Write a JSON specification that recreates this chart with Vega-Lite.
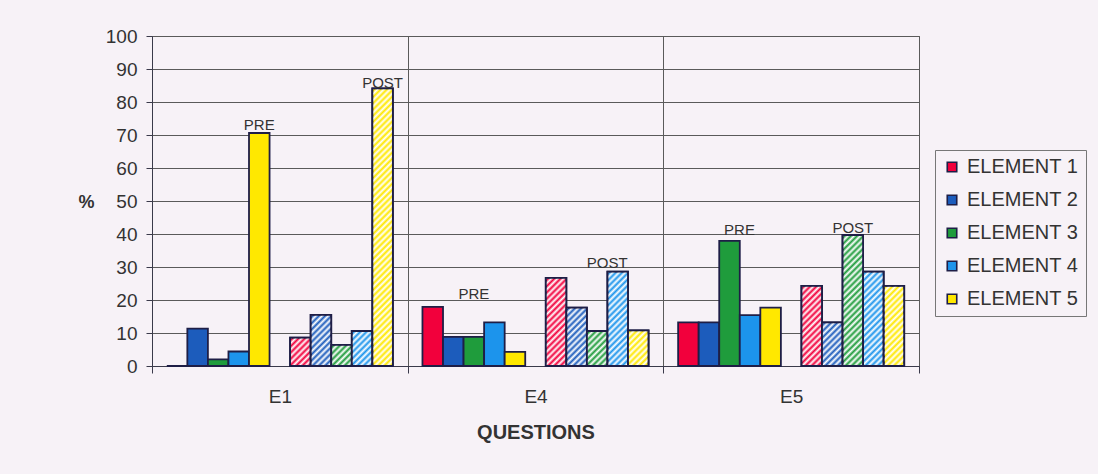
{
  "$schema": "https://vega.github.io/schema/vega-lite/v6.json",
  "width": 767,
  "height": 330,
  "autosize": "none",
  "padding": {"left": 152, "top": 36, "right": 179, "bottom": 108},
  "background": "#f7f2f7",
  "config": {
    "font": "Liberation Sans",
    "view": {"stroke": "#555555", "strokeWidth": 1},
    "axis": {"labelColor": "#333333", "titleColor": "#333333", "domainColor": "#3a3a4a", "tickColor": "#3a3a4a", "gridColor": "#5a5a5a", "gridWidth": 1}
  },
  "params": [
    {"name": "hatchStops", "value": [
      {"offset":0,"color":"#ffffff"},{"offset":0.01,"color":"rgba(255,255,255,0)"},{"offset":0.02,"color":"#ffffff"},{"offset":0.03,"color":"rgba(255,255,255,0)"},{"offset":0.04,"color":"#ffffff"},{"offset":0.05,"color":"rgba(255,255,255,0)"},{"offset":0.06,"color":"#ffffff"},{"offset":0.07,"color":"rgba(255,255,255,0)"},{"offset":0.08,"color":"#ffffff"},{"offset":0.09,"color":"rgba(255,255,255,0)"},
      {"offset":0.10,"color":"#ffffff"},{"offset":0.11,"color":"rgba(255,255,255,0)"},{"offset":0.12,"color":"#ffffff"},{"offset":0.13,"color":"rgba(255,255,255,0)"},{"offset":0.14,"color":"#ffffff"},{"offset":0.15,"color":"rgba(255,255,255,0)"},{"offset":0.16,"color":"#ffffff"},{"offset":0.17,"color":"rgba(255,255,255,0)"},{"offset":0.18,"color":"#ffffff"},{"offset":0.19,"color":"rgba(255,255,255,0)"},
      {"offset":0.20,"color":"#ffffff"},{"offset":0.21,"color":"rgba(255,255,255,0)"},{"offset":0.22,"color":"#ffffff"},{"offset":0.23,"color":"rgba(255,255,255,0)"},{"offset":0.24,"color":"#ffffff"},{"offset":0.25,"color":"rgba(255,255,255,0)"},{"offset":0.26,"color":"#ffffff"},{"offset":0.27,"color":"rgba(255,255,255,0)"},{"offset":0.28,"color":"#ffffff"},{"offset":0.29,"color":"rgba(255,255,255,0)"},
      {"offset":0.30,"color":"#ffffff"},{"offset":0.31,"color":"rgba(255,255,255,0)"},{"offset":0.32,"color":"#ffffff"},{"offset":0.33,"color":"rgba(255,255,255,0)"},{"offset":0.34,"color":"#ffffff"},{"offset":0.35,"color":"rgba(255,255,255,0)"},{"offset":0.36,"color":"#ffffff"},{"offset":0.37,"color":"rgba(255,255,255,0)"},{"offset":0.38,"color":"#ffffff"},{"offset":0.39,"color":"rgba(255,255,255,0)"},
      {"offset":0.40,"color":"#ffffff"},{"offset":0.41,"color":"rgba(255,255,255,0)"},{"offset":0.42,"color":"#ffffff"},{"offset":0.43,"color":"rgba(255,255,255,0)"},{"offset":0.44,"color":"#ffffff"},{"offset":0.45,"color":"rgba(255,255,255,0)"},{"offset":0.46,"color":"#ffffff"},{"offset":0.47,"color":"rgba(255,255,255,0)"},{"offset":0.48,"color":"#ffffff"},{"offset":0.49,"color":"rgba(255,255,255,0)"},
      {"offset":0.50,"color":"#ffffff"},{"offset":0.51,"color":"rgba(255,255,255,0)"},{"offset":0.52,"color":"#ffffff"},{"offset":0.53,"color":"rgba(255,255,255,0)"},{"offset":0.54,"color":"#ffffff"},{"offset":0.55,"color":"rgba(255,255,255,0)"},{"offset":0.56,"color":"#ffffff"},{"offset":0.57,"color":"rgba(255,255,255,0)"},{"offset":0.58,"color":"#ffffff"},{"offset":0.59,"color":"rgba(255,255,255,0)"},
      {"offset":0.60,"color":"#ffffff"},{"offset":0.61,"color":"rgba(255,255,255,0)"},{"offset":0.62,"color":"#ffffff"},{"offset":0.63,"color":"rgba(255,255,255,0)"},{"offset":0.64,"color":"#ffffff"},{"offset":0.65,"color":"rgba(255,255,255,0)"},{"offset":0.66,"color":"#ffffff"},{"offset":0.67,"color":"rgba(255,255,255,0)"},{"offset":0.68,"color":"#ffffff"},{"offset":0.69,"color":"rgba(255,255,255,0)"},
      {"offset":0.70,"color":"#ffffff"},{"offset":0.71,"color":"rgba(255,255,255,0)"},{"offset":0.72,"color":"#ffffff"},{"offset":0.73,"color":"rgba(255,255,255,0)"},{"offset":0.74,"color":"#ffffff"},{"offset":0.75,"color":"rgba(255,255,255,0)"},{"offset":0.76,"color":"#ffffff"},{"offset":0.77,"color":"rgba(255,255,255,0)"},{"offset":0.78,"color":"#ffffff"},{"offset":0.79,"color":"rgba(255,255,255,0)"},
      {"offset":0.80,"color":"#ffffff"},{"offset":0.81,"color":"rgba(255,255,255,0)"},{"offset":0.82,"color":"#ffffff"},{"offset":0.83,"color":"rgba(255,255,255,0)"},{"offset":0.84,"color":"#ffffff"},{"offset":0.85,"color":"rgba(255,255,255,0)"},{"offset":0.86,"color":"#ffffff"},{"offset":0.87,"color":"rgba(255,255,255,0)"},{"offset":0.88,"color":"#ffffff"},{"offset":0.89,"color":"rgba(255,255,255,0)"},
      {"offset":0.90,"color":"#ffffff"},{"offset":0.91,"color":"rgba(255,255,255,0)"},{"offset":0.92,"color":"#ffffff"},{"offset":0.93,"color":"rgba(255,255,255,0)"},{"offset":0.94,"color":"#ffffff"},{"offset":0.95,"color":"rgba(255,255,255,0)"},{"offset":0.96,"color":"#ffffff"},{"offset":0.97,"color":"rgba(255,255,255,0)"},{"offset":0.98,"color":"#ffffff"},{"offset":0.99,"color":"rgba(255,255,255,0)"},
      {"offset":1,"color":"#ffffff"}
    ]}
  ],
  "datasets": {
    "bars": [
      {"Question": "E1", "Phase": "PRE", "Element": "ELEMENT 1", "Value": 0},
      {"Question": "E1", "Phase": "PRE", "Element": "ELEMENT 2", "Value": 11.3},
      {"Question": "E1", "Phase": "PRE", "Element": "ELEMENT 3", "Value": 2.0},
      {"Question": "E1", "Phase": "PRE", "Element": "ELEMENT 4", "Value": 4.4},
      {"Question": "E1", "Phase": "PRE", "Element": "ELEMENT 5", "Value": 70.6},
      {"Question": "E1", "Phase": "POST", "Element": "ELEMENT 1", "Value": 8.6},
      {"Question": "E1", "Phase": "POST", "Element": "ELEMENT 2", "Value": 15.5},
      {"Question": "E1", "Phase": "POST", "Element": "ELEMENT 3", "Value": 6.4},
      {"Question": "E1", "Phase": "POST", "Element": "ELEMENT 4", "Value": 10.6},
      {"Question": "E1", "Phase": "POST", "Element": "ELEMENT 5", "Value": 84.1},
      {"Question": "E4", "Phase": "PRE", "Element": "ELEMENT 1", "Value": 17.9},
      {"Question": "E4", "Phase": "PRE", "Element": "ELEMENT 2", "Value": 8.8},
      {"Question": "E4", "Phase": "PRE", "Element": "ELEMENT 3", "Value": 8.8},
      {"Question": "E4", "Phase": "PRE", "Element": "ELEMENT 4", "Value": 13.2},
      {"Question": "E4", "Phase": "PRE", "Element": "ELEMENT 5", "Value": 4.3},
      {"Question": "E4", "Phase": "POST", "Element": "ELEMENT 1", "Value": 26.7},
      {"Question": "E4", "Phase": "POST", "Element": "ELEMENT 2", "Value": 17.7},
      {"Question": "E4", "Phase": "POST", "Element": "ELEMENT 3", "Value": 10.6},
      {"Question": "E4", "Phase": "POST", "Element": "ELEMENT 4", "Value": 28.6},
      {"Question": "E4", "Phase": "POST", "Element": "ELEMENT 5", "Value": 10.8},
      {"Question": "E5", "Phase": "PRE", "Element": "ELEMENT 1", "Value": 13.2},
      {"Question": "E5", "Phase": "PRE", "Element": "ELEMENT 2", "Value": 13.2},
      {"Question": "E5", "Phase": "PRE", "Element": "ELEMENT 3", "Value": 37.9},
      {"Question": "E5", "Phase": "PRE", "Element": "ELEMENT 4", "Value": 15.4},
      {"Question": "E5", "Phase": "PRE", "Element": "ELEMENT 5", "Value": 17.7},
      {"Question": "E5", "Phase": "POST", "Element": "ELEMENT 1", "Value": 24.3},
      {"Question": "E5", "Phase": "POST", "Element": "ELEMENT 2", "Value": 13.2},
      {"Question": "E5", "Phase": "POST", "Element": "ELEMENT 3", "Value": 39.7},
      {"Question": "E5", "Phase": "POST", "Element": "ELEMENT 4", "Value": 28.6},
      {"Question": "E5", "Phase": "POST", "Element": "ELEMENT 5", "Value": 24.3}
    ],
    "labels": [
      {"Question": "E1", "Slot": "PRE ELEMENT 5", "Label": "PRE", "Value": 71.5, "Shift": "none"},
      {"Question": "E1", "Slot": "POST ELEMENT 5", "Label": "POST", "Value": 84.3, "Shift": "none"},
      {"Question": "E4", "Slot": "PRE ELEMENT 3", "Label": "PRE", "Value": 20.3, "Shift": "none"},
      {"Question": "E4", "Slot": "POST ELEMENT 3", "Label": "POST", "Value": 29.7, "Shift": "half"},
      {"Question": "E5", "Slot": "PRE ELEMENT 3", "Label": "PRE", "Value": 39.7, "Shift": "half"},
      {"Question": "E5", "Slot": "POST ELEMENT 3", "Label": "POST", "Value": 40.3, "Shift": "none"}
    ]
  },
  "encoding": {
    "x": {"field": "Question", "type": "nominal", "title": "QUESTIONS",
      "scale": {"domain": ["E1", "E4", "E5"], "paddingInner": 0, "paddingOuter": 0},
      "axis": {"tickBand": "extent", "tickSize": 7, "labelFontSize": 19, "labelPadding": 14, "labelAngle": 0, "grid": true, "titleFontSize": 20, "titleFontWeight": "bold", "titlePadding": 16}},
    "xOffset": {"field": "Slot", "type": "nominal",
      "scale": {"domain": ["PRE ELEMENT 1", "PRE ELEMENT 2", "PRE ELEMENT 3", "PRE ELEMENT 4", "PRE ELEMENT 5", "GAP", "POST ELEMENT 1", "POST ELEMENT 2", "POST ELEMENT 3", "POST ELEMENT 4", "POST ELEMENT 5"], "paddingInner": 0, "paddingOuter": 0.72}},
    "y": {"field": "Value", "type": "quantitative",
      "scale": {"domain": [0, 100], "nice": false},
      "axis": {"values": [0, 10, 20, 30, 40, 50, 60, 70, 80, 90, 100], "labelOverlap": false, "tickSize": 6, "labelPadding": 9, "labelFontSize": 19, "grid": true, "title": "%", "titleAngle": 0, "titleX": -66, "titleY": 166, "titleAlign": "center", "titleBaseline": "middle", "titleFontSize": 18, "titleFontWeight": "bold"}}
  },
  "layer": [
    {
      "data": {"name": "bars"},
      "transform": [{"calculate": "datum.Phase + ' ' + datum.Element", "as": "Slot"}],
      "mark": {"type": "bar", "stroke": "#1e1e46", "strokeWidth": 1.8},
      "encoding": {
        "fill": {"field": "Element", "type": "nominal",
          "scale": {"domain": ["ELEMENT 1", "ELEMENT 2", "ELEMENT 3", "ELEMENT 4", "ELEMENT 5"], "range": ["#f2003c", "#1c5cbc", "#1f9c3c", "#1c94ec", "#ffe800"]},
          "legend": {"orient": "none", "legendX": 783, "legendY": 114, "title": null, "symbolType": "square", "symbolSize": 90, "symbolStrokeColor": "#1e1e46", "symbolStrokeWidth": 1.6, "labelFontSize": 20, "labelColor": "#333333", "labelOffset": 5, "strokeColor": "#777777", "padding": 7, "rowPadding": 13}}
      }
    },
    {
      "data": {"name": "bars"},
      "transform": [{"filter": "datum.Phase === 'POST'"}, {"calculate": "datum.Phase + ' ' + datum.Element", "as": "Slot"}],
      "mark": {"type": "bar", "stroke": "#1e1e46", "strokeWidth": 1.8,
        "fill": {"expr": "{gradient: 'linear', id: 'hatch' + datum.Question + replace(datum.Element, ' ', ''), x1: 0, y1: 0, x2: 311.1 * bandwidth('xOffset') / (pow(bandwidth('xOffset'), 2) + pow(scale('y', 0) - scale('y', datum.Value), 2)), y2: 311.1 * (scale('y', 0) - scale('y', datum.Value)) / (pow(bandwidth('xOffset'), 2) + pow(scale('y', 0) - scale('y', datum.Value), 2)), stops: hatchStops}"}}
    },
    {
      "data": {"name": "labels"},
      "transform": [{"filter": "datum.Shift === 'none'"}],
      "mark": {"type": "text", "fontSize": 15, "color": "#333333", "baseline": "alphabetic"},
      "encoding": {"text": {"field": "Label"}}
    },
    {
      "data": {"name": "labels"},
      "transform": [{"filter": "datum.Shift === 'half'"}],
      "mark": {"type": "text", "fontSize": 15, "color": "#333333", "baseline": "alphabetic", "dx": 10},
      "encoding": {"text": {"field": "Label"}}
    }
  ]
}
